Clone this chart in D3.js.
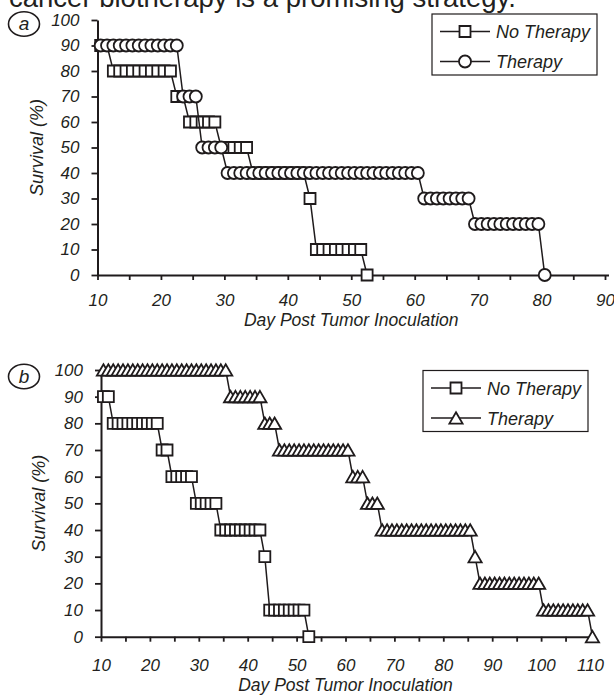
<!DOCTYPE html>
<html>
<head>
<meta charset="utf-8">
<script src="https://cdn.jsdelivr.net/npm/d3@7"></script>
<style>
  body { margin: 0; background: #fff; }
  svg { display: block; }
  text { fill: #231f20; }
</style>
</head>
<body>
<div id="chart"></div>
<script>
/* Survival curves, tumour-bearing animals with and without biotherapy (panels a and b). */

// one marker per day of observation: [day, survival %]
const noTherapy = [
  [10, 90], [11, 90],
  [12, 80], [13, 80], [14, 80], [15, 80], [16, 80], [17, 80], [18, 80], [19, 80], [20, 80], [21, 80],
  [22, 70], [23, 70],
  [24, 60], [25, 60], [26, 60], [27, 60], [28, 60],
  [29, 50], [30, 50], [31, 50], [32, 50], [33, 50],
  [34, 40], [35, 40], [36, 40], [37, 40], [38, 40], [39, 40], [40, 40], [41, 40], [42, 40],
  [43, 30],
  [44, 10], [45, 10], [46, 10], [47, 10], [48, 10], [49, 10], [50, 10], [51, 10],
  [52, 0]
];

const therapyA = [
  [10, 90], [11, 90], [12, 90], [13, 90], [14, 90], [15, 90], [16, 90], [17, 90], [18, 90],
  [19, 90], [20, 90], [21, 90], [22, 90],
  [23, 70], [24, 70], [25, 70],
  [26, 50], [27, 50], [28, 50], [29, 50],
  [30, 40], [31, 40], [32, 40], [33, 40], [34, 40], [35, 40], [36, 40], [37, 40], [38, 40],
  [39, 40], [40, 40], [41, 40], [42, 40], [43, 40], [44, 40], [45, 40], [46, 40], [47, 40],
  [48, 40], [49, 40], [50, 40], [51, 40], [52, 40], [53, 40], [54, 40], [55, 40], [56, 40],
  [57, 40], [58, 40], [59, 40], [60, 40],
  [61, 30], [62, 30], [63, 30], [64, 30], [65, 30], [66, 30], [67, 30], [68, 30],
  [69, 20], [70, 20], [71, 20], [72, 20], [73, 20], [74, 20], [75, 20], [76, 20], [77, 20],
  [78, 20], [79, 20],
  [80, 0]
];

const therapyB = [
  [10, 100], [11, 100], [12, 100], [13, 100], [14, 100], [15, 100], [16, 100], [17, 100],
  [18, 100], [19, 100], [20, 100], [21, 100], [22, 100], [23, 100], [24, 100], [25, 100],
  [26, 100], [27, 100], [28, 100], [29, 100], [30, 100], [31, 100], [32, 100], [33, 100],
  [34, 100], [35, 100],
  [36, 90], [37, 90], [38, 90], [39, 90], [40, 90], [41, 90], [42, 90],
  [43, 80], [44, 80], [45, 80],
  [46, 70], [47, 70], [48, 70], [49, 70], [50, 70], [51, 70], [52, 70], [53, 70], [54, 70],
  [55, 70], [56, 70], [57, 70], [58, 70], [59, 70], [60, 70],
  [61, 60], [62, 60], [63, 60],
  [64, 50], [65, 50], [66, 50],
  [67, 40], [68, 40], [69, 40], [70, 40], [71, 40], [72, 40], [73, 40], [74, 40], [75, 40],
  [76, 40], [77, 40], [78, 40], [79, 40], [80, 40], [81, 40], [82, 40], [83, 40], [84, 40],
  [85, 40],
  [86, 30],
  [87, 20], [88, 20], [89, 20], [90, 20], [91, 20], [92, 20], [93, 20], [94, 20], [95, 20],
  [96, 20], [97, 20], [98, 20], [99, 20],
  [100, 10], [101, 10], [102, 10], [103, 10], [104, 10], [105, 10], [106, 10], [107, 10],
  [108, 10], [109, 10],
  [110, 0]
];

const seriesNames = ["No Therapy", "Therapy"];
const yLabels = [0, 10, 20, 30, 40, 50, 60, 70, 80, 90, 100];
const xLabelsA = [10, 20, 30, 40, 50, 60, 70, 80, 90];
const xLabelsB = [10, 20, 30, 40, 50, 60, 70, 80, 90, 100, 110];

const width = 614, height = 696;
const ink = "#1f1b1c";
const font = "'Liberation Sans', Arial, sans-serif";
const half = 0.5;   // markers sit in the middle of each day

const panels = [
  {tag: "a", series: [noTherapy, therapyA], marks: ["square", "circle"], xMax: 90, xLabels: xLabelsA,
   left: 97.5, right: 605, top: 20, bottom: 275, axisRun: 4, labelDy: 31, titleDy: 51, yTitleX: 43,
   badge: {x: 24, y: 24}, legend: {x: 432, y: 14}},
  {tag: "b", series: [noTherapy, therapyB], marks: ["square", "triangle"], xMax: 110, xLabels: xLabelsB,
   left: 101, right: 590, top: 370, bottom: 636.7, axisRun: 3, labelDy: 34, titleDy: 54, yTitleX: 45,
   badge: {x: 24, y: 376.5}, legend: {x: 423, y: 370.5}}
];

const shapes = {
  square: (x, y) => `M${x - 5.5},${y - 5.5}h11v11h-11Z`,
  circle: (x, y) => `M${x - 6},${y}a6,6 0 1,0 12,0a6,6 0 1,0 -12,0Z`,
  triangle: (x, y) => `M${x},${y - 5.8}L${x + 6.6},${y + 5.6}L${x - 6.6},${y + 5.6}Z`
};

let svg = d3.select("#chart")
  .append("svg")
  .attr("width", width)
  .attr("height", height);

svg.append("rect").attr("width", width).attr("height", height).attr("fill", "#fff");

// line of text from the page above, cut by the top edge as in the scan
svg.append("text")
  .attr("x", 9)
  .attr("y", 6.5)
  .style("font-family", font)
  .style("font-size", "27.5px")
  .text("cancer biotherapy is a promising strategy.");

panels.forEach(p => {
  const x = d3.scaleLinear().domain([10, p.xMax]).range([p.left, p.right]);
  const y = d3.scaleLinear().domain([0, 100]).range([p.bottom, p.top]);
  const g = svg.append("g");

  const xAxis = ax => ax
    .attr("transform", `translate(0,${p.bottom})`)
    .call(d3.axisBottom(x)
      .tickValues(d3.range(10, p.xMax + 1, 5))
      .tickSize(5)
      .tickSizeOuter(0)
      .tickFormat(d => p.xLabels.includes(d) ? d : ""));

  const yAxis = ax => ax
    .attr("transform", `translate(${p.left},0)`)
    .call(d3.axisLeft(y)
      .tickValues(yLabels)
      .tickSize(6)
      .tickSizeOuter(0)
      .tickPadding(12));

  const gx = g.append("g").call(xAxis);
  const gy = g.append("g").call(yAxis);

  // the printed x axis runs a little past its last tick
  gx.select(".domain").attr("d", `M${p.left},0.5H${p.right + p.axisRun}`);

  g.selectAll(".domain").attr("stroke", ink).attr("stroke-width", 2);
  g.selectAll(".tick line").attr("stroke", ink).attr("stroke-width", 1.8);
  g.selectAll(".tick text")
    .attr("fill", ink)
    .style("font-family", font)
    .style("font-size", "17px")
    .style("font-style", "italic");
  gx.selectAll(".tick text").attr("y", p.labelDy).attr("dy", 0);

  // axis titles
  g.append("text")
    .attr("x", (p.left + p.right) / 2)
    .attr("y", p.bottom + p.titleDy)
    .attr("text-anchor", "middle")
    .style("font-family", font)
    .style("font-size", "17.5px")
    .style("font-style", "italic")
    .text("Day Post Tumor Inoculation");

  g.append("text")
    .attr("transform", `translate(${p.yTitleX},${(p.top + p.bottom) / 2}) rotate(-90)`)
    .attr("text-anchor", "middle")
    .style("font-family", font)
    .style("font-size", "18px")
    .style("font-style", "italic")
    .text("Survival (%)");

  // panel badge
  g.append("ellipse")
    .attr("cx", p.badge.x).attr("cy", p.badge.y)
    .attr("rx", 15.5).attr("ry", 12.2)
    .attr("fill", "none").attr("stroke", ink).attr("stroke-width", 1.6);
  g.append("text")
    .attr("x", p.badge.x).attr("y", p.badge.y + 6)
    .attr("text-anchor", "middle")
    .style("font-family", font)
    .style("font-size", "19px")
    .style("font-style", "italic")
    .text(p.tag);

  // curves: line first, then markers (later days on top)
  const line = d3.line().x(d => x(d[0] + half)).y(d => y(d[1]));
  p.series.forEach((data, i) => {
    g.append("path")
      .datum(data)
      .attr("d", line)
      .attr("fill", "none")
      .attr("stroke", ink)
      .attr("stroke-width", 1.5);

    g.selectAll(".mark-" + i)
      .data(data)
      .join("path")
      .attr("class", "mark-" + i)
      .attr("d", d => shapes[p.marks[i]](x(d[0] + half), y(d[1])))
      .attr("fill", "#fff")
      .attr("stroke", ink)
      .attr("stroke-width", 1.8);
  });

  // legend
  const lg = g.append("g").attr("transform", `translate(${p.legend.x},${p.legend.y})`);
  lg.append("rect")
    .attr("width", 165).attr("height", 61)
    .attr("fill", "#fff").attr("stroke", ink).attr("stroke-width", 1.2);
  seriesNames.forEach((name, i) => {
    const cy = 17.5 + i * 30;
    lg.append("line")
      .attr("x1", 8).attr("x2", 58).attr("y1", cy).attr("y2", cy)
      .attr("stroke", ink).attr("stroke-width", 1.5);
    lg.append("path")
      .attr("d", shapes[p.marks[i]](33, cy))
      .attr("fill", "#fff").attr("stroke", ink).attr("stroke-width", 1.8);
    lg.append("text")
      .attr("x", 64).attr("y", cy + 6.5)
      .style("font-family", font)
      .style("font-size", "18px")
      .style("font-style", "italic")
      .text(name);
  });
});
</script>
</body>
</html>
